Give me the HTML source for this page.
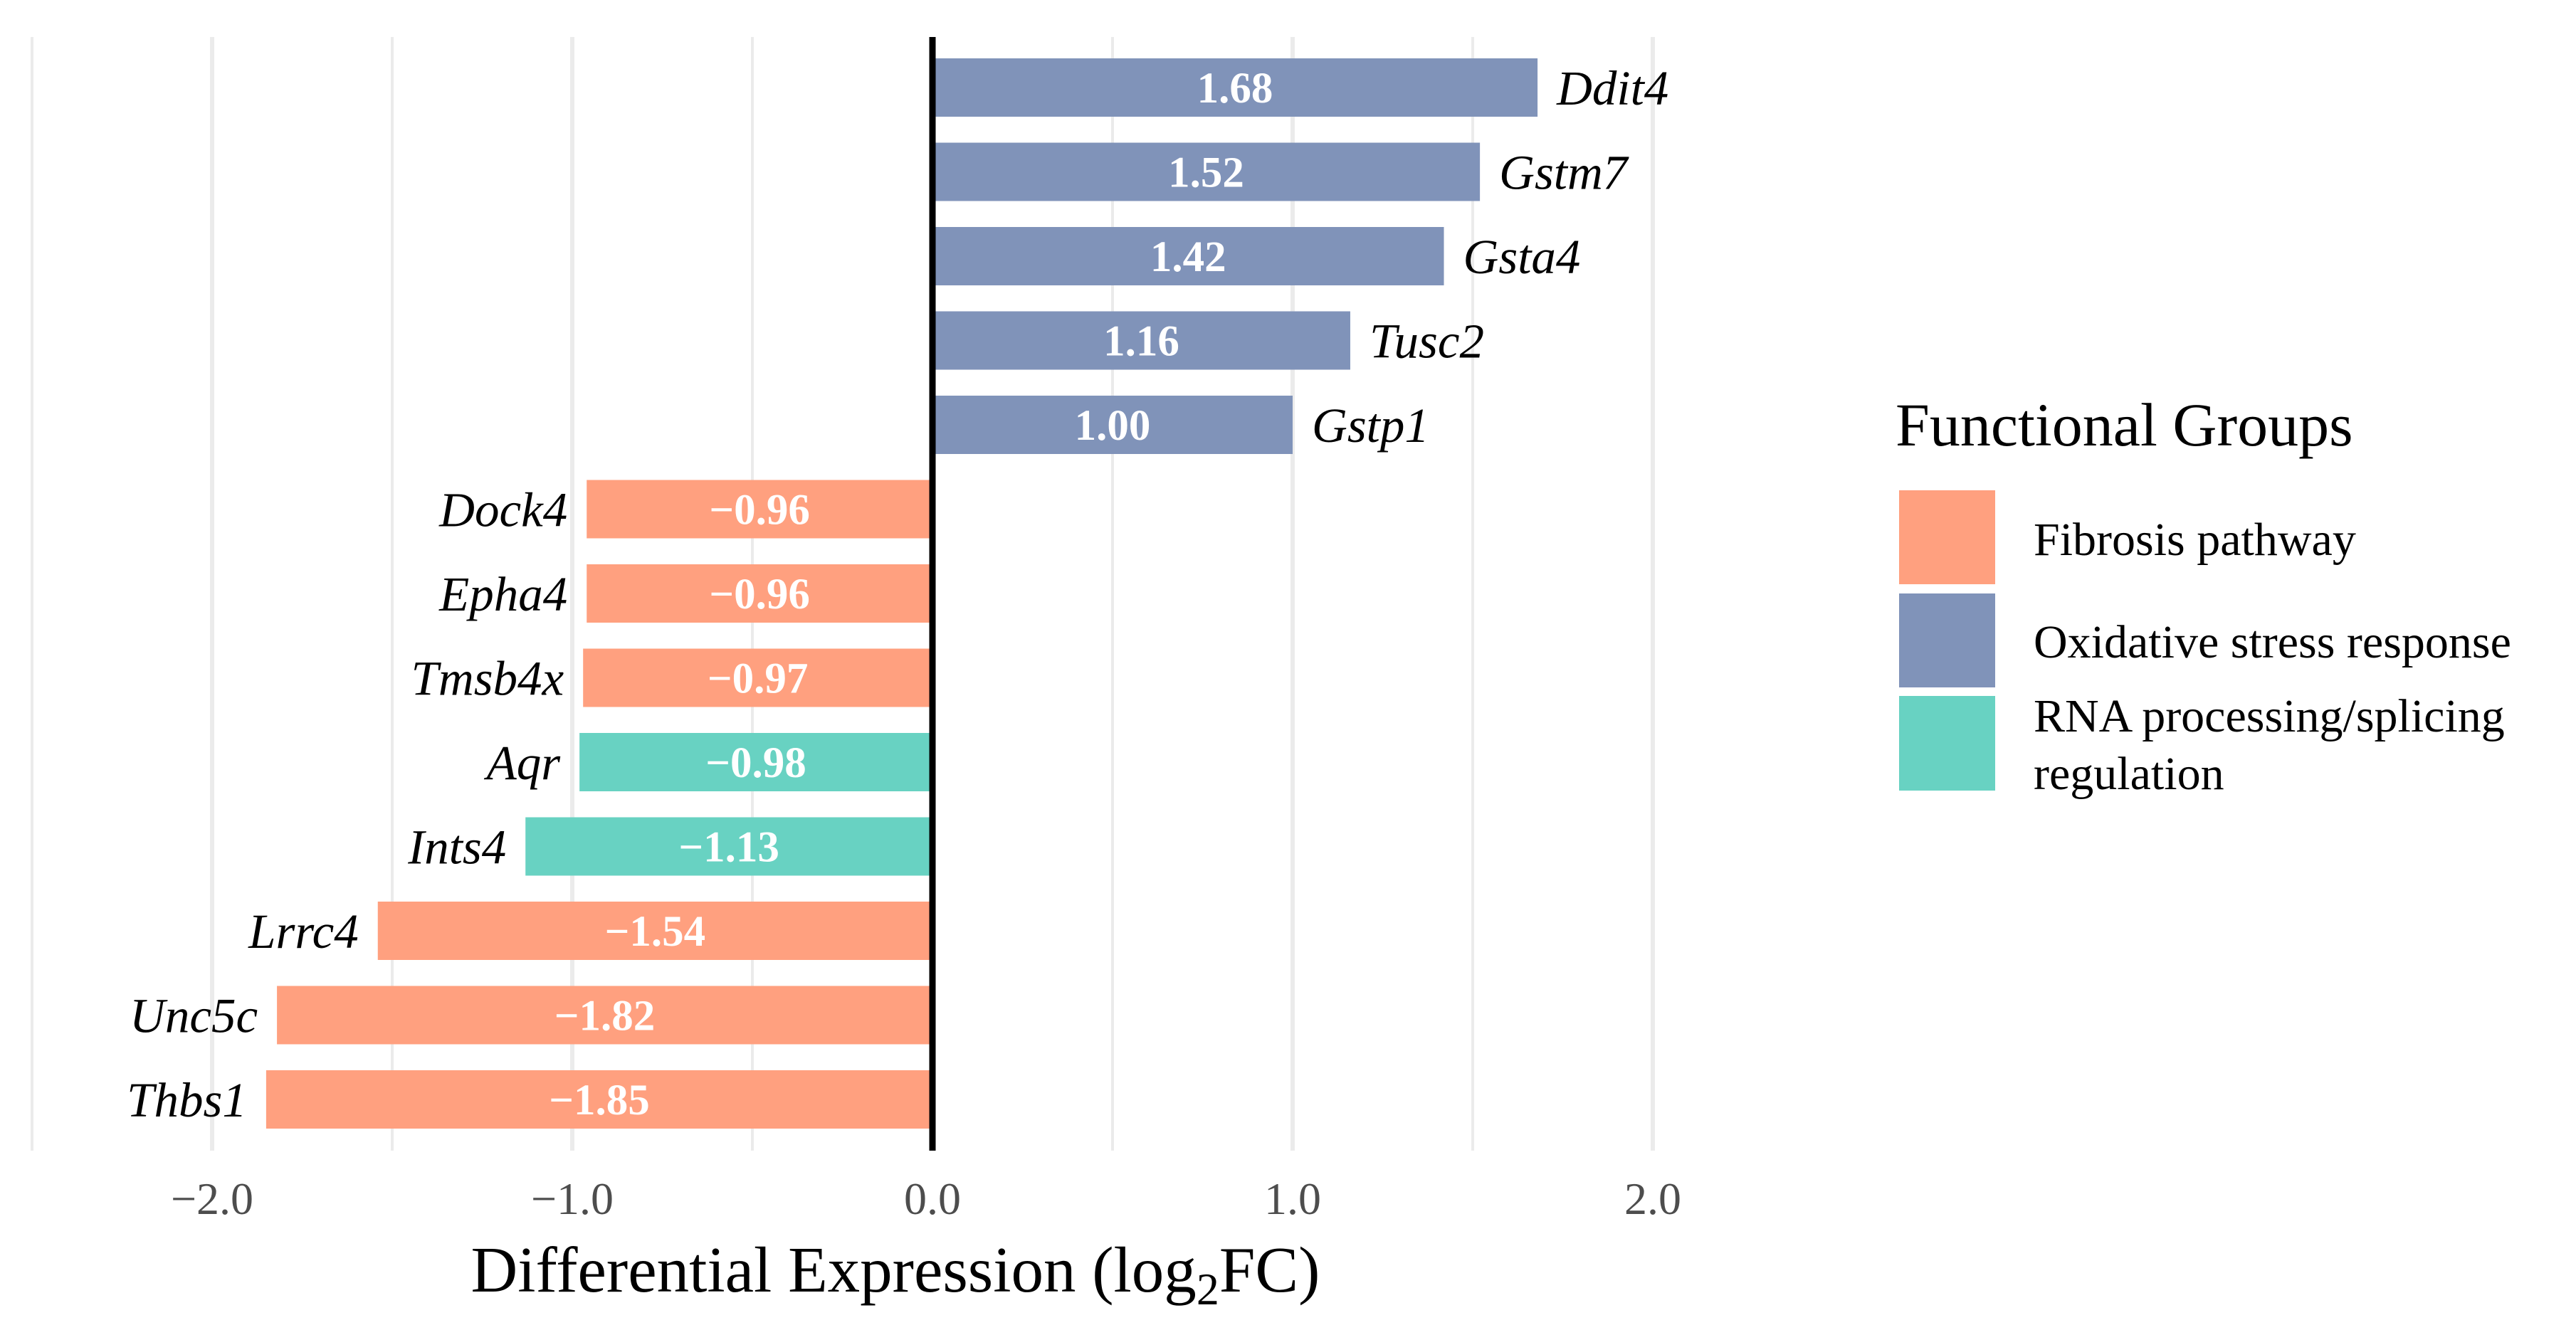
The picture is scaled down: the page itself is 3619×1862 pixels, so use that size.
<!DOCTYPE html>
<html><head><meta charset="utf-8">
<style>
html,body{margin:0;padding:0;background:#fff;}
svg{display:block;font-family:"Liberation Serif","Times New Roman",serif;}
</style></head>
<body>
<svg id="chart" width="3619" height="1862" viewBox="0 0 3619 1862" xmlns="http://www.w3.org/2000/svg">
  <g id="grid"></g>
  <g id="bars"></g>
  <line x1="1310" y1="52" x2="1310" y2="1617" stroke="#000" stroke-width="9"/>
  <g id="xticks"></g>
  <text x="1258" y="1815" font-size="91" text-anchor="middle" fill="#000">Differential Expression (log<tspan font-size="64" dy="18">2</tspan><tspan dy="-18">FC)</tspan></text>
  <g>
    <text x="2663" y="626" font-size="86" fill="#000">Functional Groups</text>
    <rect x="2668" y="689" width="135" height="132" fill="#FFA07F"/>
    <text x="2857" y="780" font-size="66" fill="#000">Fibrosis pathway</text>
    <rect x="2668" y="834" width="135" height="132" fill="#8093B9"/>
    <text x="2857" y="924" font-size="66" fill="#000">Oxidative stress response</text>
    <rect x="2668" y="978" width="135" height="133" fill="#68D2C2"/>
    <text x="2857" y="1028" font-size="66" fill="#000">RNA processing/splicing</text>
    <text x="2857" y="1109" font-size="66" fill="#000">regulation</text>
  </g>
</svg>
<script>
const genes = ["Ddit4","Gstm7","Gsta4","Tusc2","Gstp1","Dock4","Epha4","Tmsb4x","Aqr","Ints4","Lrrc4","Unc5c","Thbs1"];
const values = [1.68,1.52,1.42,1.16,1.00,-0.96,-0.96,-0.97,-0.98,-1.13,-1.54,-1.82,-1.85];
const groups = ["ox","ox","ox","ox","ox","fib","fib","fib","rna","rna","fib","fib","fib"];
const tickValues = [-2,-1,0,1,2];
const tickLabels = ["\u22122.0","\u22121.0","0.0","1.0","2.0"];
const minorValues = [-2.5,-1.5,-0.5,0.5,1.5];

const colors = {ox:"#8093B9", fib:"#FFA07F", rna:"#68D2C2"};
const NS = "http://www.w3.org/2000/svg";
const X0 = 1310, XS = 506, Y0 = 123, YP = 118.5, BH = 82;
function xs(v){ return X0 + v*XS; }
function yc(i){ return Y0 + i*YP; }
function mk(tag, attrs, parent){
  const e = document.createElementNS(NS, tag);
  for (const k in attrs) e.setAttribute(k, attrs[k]);
  parent.appendChild(e); return e;
}
function fmt(v){ return (v<0?"\u2212":"") + Math.abs(v).toFixed(2); }

const grid = document.getElementById('grid');
minorValues.forEach(v=>{
  const l = mk('line',{x1:xs(v),x2:xs(v),y1:52,y2:1617,stroke:"#EBEBEB","stroke-width":4},grid);
  
  
});
tickValues.forEach(v=>{
  const l = mk('line',{x1:xs(v),x2:xs(v),y1:52,y2:1617,stroke:"#EBEBEB","stroke-width":6},grid);
  
  
});
const xt = document.getElementById('xticks');
tickValues.forEach((v,i)=>{
  const t = mk('text',{x:xs(v),y:1706,"font-size":64,"text-anchor":"middle",fill:"#4D4D4D"},xt);
  
  
  t.textContent = tickLabels[i];
});
const bars = document.getElementById('bars');
genes.forEach((g,i)=>{
  const v = values[i];
  const x1 = Math.min(xs(0),xs(v)), w = Math.abs(xs(v)-xs(0));
  const r = mk('rect',{x:x1,y:yc(i)-BH/2,width:w,height:BH,fill:colors[groups[i]]},bars);
  
  
  const vt = mk('text',{x:(xs(0)+xs(v))/2,y:yc(i)+21,"font-size":61,"font-weight":"bold","text-anchor":"middle",fill:"#fff"},bars);
  
  
  vt.textContent = fmt(v);
  const gx = v>=0 ? xs(v)+27 : xs(v)-27;
  const gt = mk('text',{x:gx,y:yc(i)+24,"font-size":69,"font-style":"italic","text-anchor":v>=0?"start":"end",fill:"#000"},bars);
  
  
  gt.textContent = g;
});
</script>
</body></html>
